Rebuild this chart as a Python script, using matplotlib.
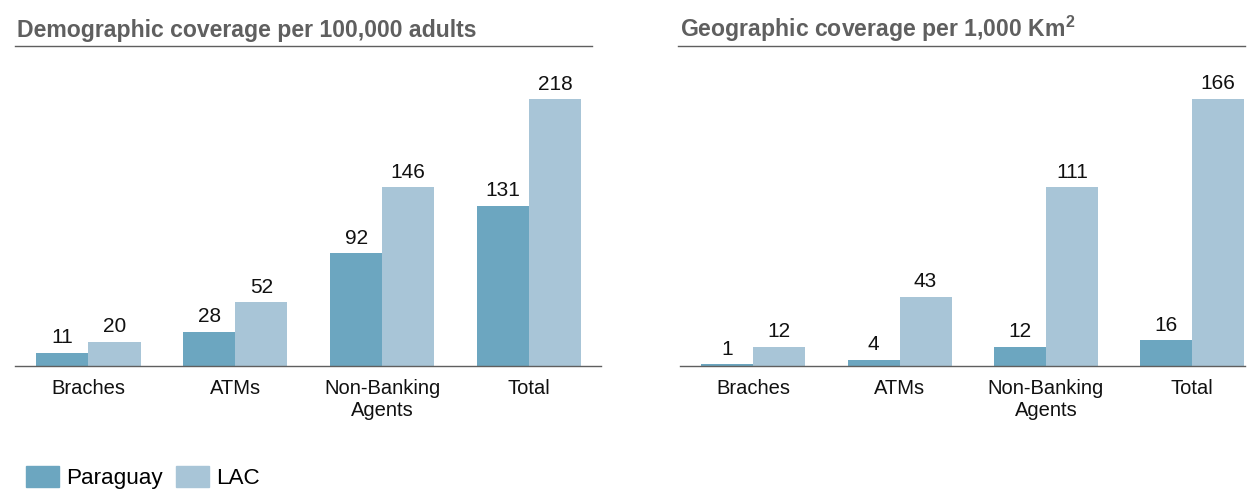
import matplotlib.pyplot as plt
from matplotlib.lines import Line2D
from matplotlib.patches import Patch
import numpy as np

plt.rcParams["font.family"] = ["Liberation Sans", "DejaVu Sans"]
plt.rcParams["mathtext.fontset"] = "custom"
plt.rcParams["mathtext.rm"] = "Liberation Sans"
plt.rcParams["mathtext.bf"] = "Liberation Sans:bold"

categories = ["Braches", "ATMs", "Non-Banking\nAgents", "Total"]
demo_paraguay = [11, 28, 92, 131]
demo_lac = [20, 52, 146, 218]
geo_paraguay = [1, 4, 12, 16]
geo_lac = [12, 43, 111, 166]

titles = ["Demographic coverage per 100,000 adults",
          r"Geographic coverage per 1,000 Km$^{\mathbf{2}}$"]
series_names = ["Paraguay", "LAC"]

C_PY = "#6ca6c0"
C_LAC = "#a8c5d7"
GREY = "#5f5f5f"

W, H = 1252, 491
fig = plt.figure(figsize=(W / 100, H / 100), dpi=100)


def px_axes(x0, x1, y0, y1):
    return fig.add_axes([x0 / W, 1 - y1 / H, (x1 - x0) / W, (y1 - y0) / H])


def draw_panel(ax, py, lac, ymax, xmax):
    x = np.arange(len(categories))
    w = 0.355
    b1 = ax.bar(x - w / 2, py, w, color=C_PY)
    b2 = ax.bar(x + w / 2, lac, w, color=C_LAC)
    for bars in (b1, b2):
        ax.bar_label(bars, padding=4, fontsize=15, color="#111111")
    ax.set_xlim(-0.5, xmax)
    ax.set_ylim(0, ymax)
    ax.set_xticks(x)
    ax.set_xticklabels(categories, fontsize=14.5, color="#111111", linespacing=1.2)
    ax.tick_params(axis="x", length=0, pad=9)
    ax.set_yticks([])
    for s in ("top", "right", "left"):
        ax.spines[s].set_visible(False)
    ax.spines["bottom"].set_color(GREY)
    ax.spines["bottom"].set_linewidth(1.0)


ax1 = px_axes(15, 601, 60, 366)
draw_panel(ax1, demo_paraguay, demo_lac, 250, 3.49)
ax2 = px_axes(680, 1245, 60, 366)
draw_panel(ax2, geo_paraguay, geo_lac, 190, 3.36)

# titles with underline
for (tx, lx0, lx1), t in zip([(17, 15, 592), (680, 678, 1245)], titles):
    fig.text(tx / W, 1 - 37 / H, t, fontsize=16.6, fontweight="bold", color=GREY,
             ha="left", va="baseline")
    fig.add_artist(Line2D([lx0 / W, lx1 / W], [1 - 46 / H, 1 - 46 / H],
                          transform=fig.transFigure, color=GREY, lw=1.0))

handles = [Patch(color=C_PY), Patch(color=C_LAC)]
fig.legend(handles, series_names, loc="lower left", bbox_to_anchor=(26 / W, 2 / H),
           ncol=2, frameon=False, fontsize=16.2, handlelength=1.47, handleheight=1.07,
           handletextpad=0.3, columnspacing=0.62, borderpad=0, borderaxespad=0)

fig.savefig("out.png", dpi=100)
